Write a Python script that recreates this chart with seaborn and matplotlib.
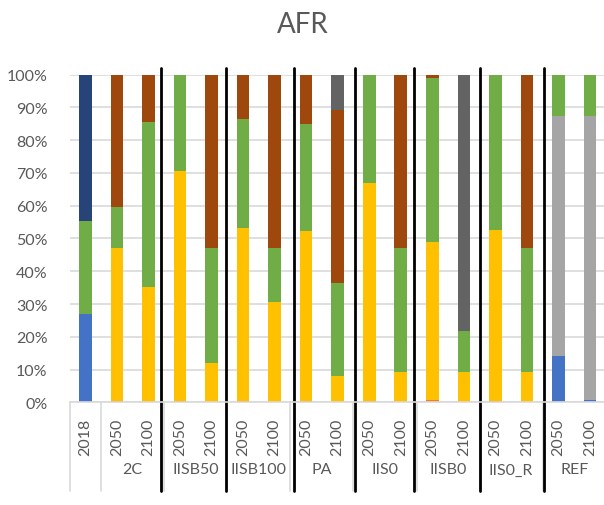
import numpy as np
import pandas as pd
import matplotlib
matplotlib.use("Agg")
import matplotlib.pyplot as plt
import seaborn as sns

# bars: scenario group + year
groups = ["", "2C", "IISB50", "IISB100", "PA", "IIS0", "IISB0", "IIS0_R", "REF"]
group_years = [["2018"]] + [["2050", "2100"]] * 8

# segment shares (%) per bar, bottom to top in stacking order
blue     = [26.8, 0, 0, 0, 0, 0, 0, 0, 0, 0, 0, 0, 0, 0, 0, 14.2, 0.8]
orange   = [0, 0.3, 0, 0.5, 0, 0.3, 0, 0.3, 0, 0.5, 0, 0.8, 0, 0.3, 0, 0, 0]
gray     = [0, 0, 0, 0, 0, 0, 0, 0, 0, 0, 0, 0, 0, 0, 0, 73.2, 86.6]
gold     = [0, 46.8, 35.3, 70.2, 11.9, 52.9, 30.6, 52.0, 8.0, 66.3, 9.3, 48.1, 9.3, 52.2, 9.1, 0, 0]
green    = [28.4, 12.5, 50.2, 29.3, 35.1, 33.2, 16.4, 32.7, 28.4, 33.2, 37.7, 50.2, 12.5, 47.5, 38.0, 12.6, 12.6]
navy     = [44.8, 0, 0, 0, 0, 0, 0, 0, 0, 0, 0, 0, 0, 0, 0, 0, 0]
brown    = [0, 40.4, 14.5, 0, 53.0, 13.6, 53.0, 15.0, 52.9, 0, 53.0, 0.9, 0, 0, 52.9, 0, 0]
charcoal = [0, 0, 0, 0, 0, 0, 0, 0, 10.7, 0, 0, 0, 78.2, 0, 0, 0, 0]

series = [blue, orange, gray, gold, green, navy, brown, charcoal]
colors = ["#4472C4", "#ED7D31", "#A5A5A5", "#FFC000", "#70AD47", "#264478", "#9E480E", "#636363"]

# the black divider lines were drawn by hand, slightly off the category edges
divider_nudge = [-0.1, -0.05, 0.11, 0.05, -0.08, 0.01, 0.04]

bar_ids = []
for g, yrs in zip(groups, group_years):
    for y in yrs:
        bar_ids.append((g + " " + y).strip())

tops = np.cumsum(np.array(series), axis=0)

sns.set_style("white")
plt.rcParams["font.family"] = ["Lato", "DejaVu Sans"]
txt = "#595959"
light = "#D9D9D9"

fig = plt.figure(figsize=(6.04, 5.06), dpi=100)
ax = fig.add_axes([0.1154, 0.203, 0.8874, 0.6474])

# stacked bars: draw cumulative tops from highest series down
for i in range(len(series) - 1, -1, -1):
    df = pd.DataFrame({"bar": bar_ids, "top": tops[i]})
    sns.barplot(data=df, x="bar", y="top", order=bar_ids, color=colors[i],
                saturation=1, width=0.4, linewidth=0, errorbar=None, ax=ax)

ax.set_xlim(-0.5, len(bar_ids) - 0.5)
ax.set_ylim(0, 100)
ax.set_yticks(range(0, 101, 10))
ax.set_yticklabels([f"{v}%" for v in range(0, 101, 10)], color=txt, fontsize=11.5)
ax.tick_params(axis="y", length=0, pad=16)
ax.set_xticks([])
ax.set_xlabel("")
ax.set_ylabel("")
ax.yaxis.grid(True, color=light, lw=1.2)
ax.set_axisbelow(True)
for s in ["top", "right", "left"]:
    ax.spines[s].set_visible(False)
ax.spines["bottom"].set_color(light)
ax.spines["bottom"].set_linewidth(1.2)

xt = ax.get_xaxis_transform()
# multi-level category labels
pos = 0
bounds = [-0.5]
for g, yrs in zip(groups, group_years):
    start = pos
    for y in yrs:
        ax.text(pos, -0.103, y, transform=xt, rotation=90, ha="center", va="center",
                color=txt, fontsize=11.5)
        pos += 1
    if g:
        ax.text((start + pos - 1) / 2, -0.205, g, transform=xt, ha="center", va="center",
                color=txt, fontsize=11.5)
    bounds.append(pos - 0.5)

for b in bounds:
    ax.plot([b, b], [0, -0.27], transform=xt, color=light, lw=1.2, clip_on=False)

# black separators between scenario groups
for b, d in zip(bounds[2:-1], divider_nudge):
    ax.plot([b + d, b + d], [1.02, -0.27], transform=xt, color="black", lw=2, clip_on=False)

fig.text(0.502, 1 - 33 / 506, "AFR", ha="center", va="baseline", color=txt, fontsize=20)

fig.savefig("out.png", dpi=100)
